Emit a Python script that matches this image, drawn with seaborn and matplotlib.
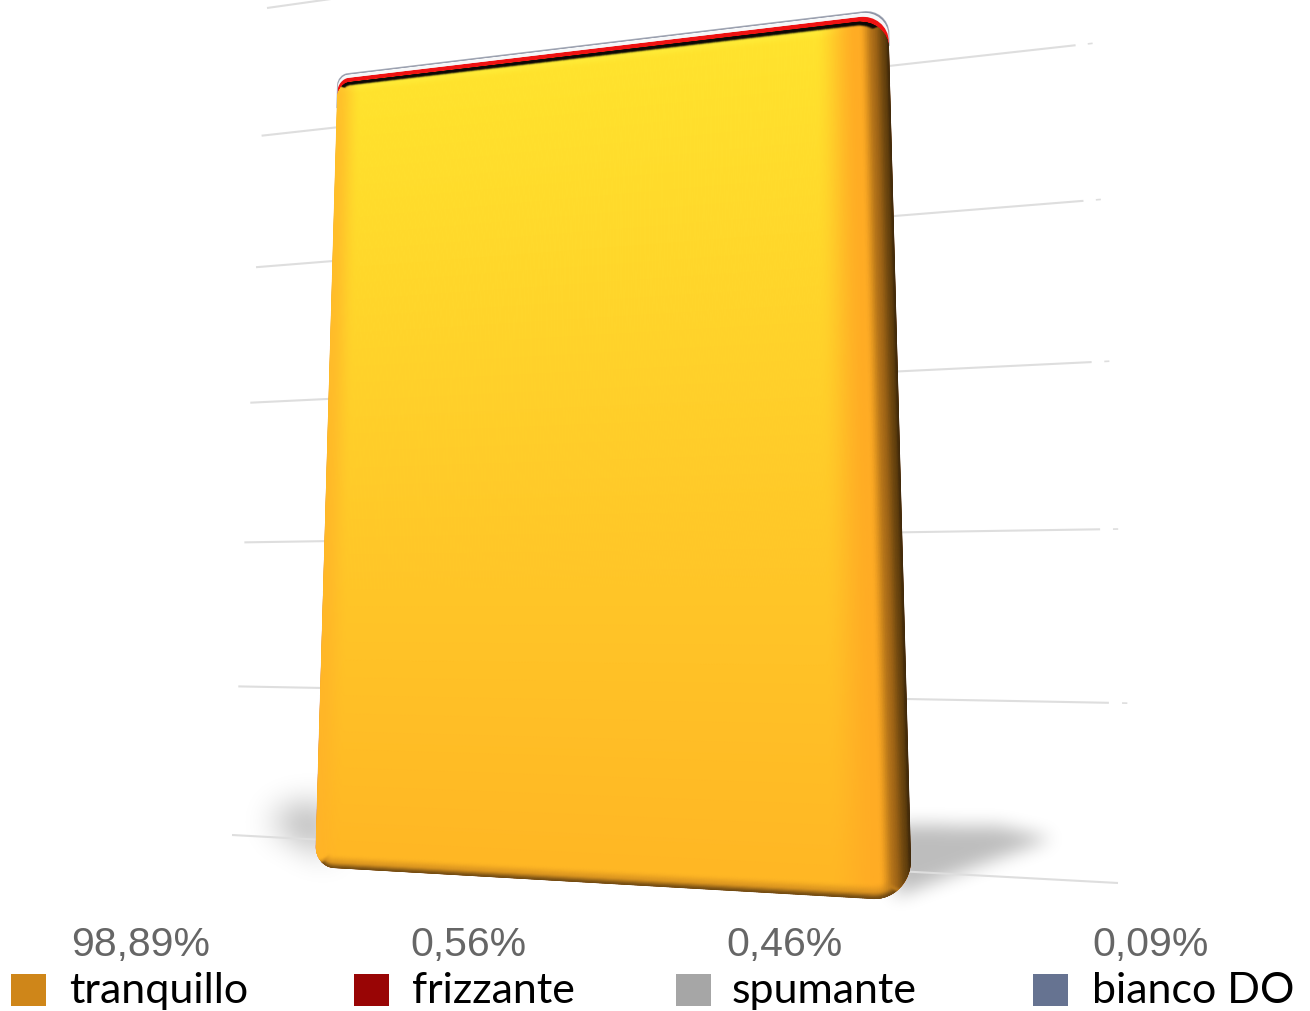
import numpy as np
import matplotlib
matplotlib.use("Agg")
import matplotlib.pyplot as plt
import seaborn as sns
from matplotlib.path import Path
from matplotlib.transforms import Transform
from matplotlib.patches import Rectangle, PathPatch

# ---- data ----
series_names = ["tranquillo", "frizzante", "spumante", "bianco DO"]
series_values = [98.89, 0.56, 0.46, 0.09]
value_labels = ["98,89%", "0,56%", "0,46%", "0,09%"]
legend_colors = ["#CF8619", "#990505", "#A6A6A6", "#667391"]
bar_colors = ["#FFC52A", "#EE1212", "#F6F7F8", "#8C92A4"]
grid_levels = [0, 20, 40, 60, 80, 100, 120]
group = ["vino"]

W, H = 1310, 1011
sns.set_theme(style="white")


class Projective(Transform):
    """Maps a data rectangle onto a perspective quadrilateral (image pixels)."""
    input_dims = output_dims = 2
    is_separable = False
    has_inverse = False

    def __init__(self, x0, x1, y0, y1, bl, br, tr, tl):
        super().__init__()
        src = [(x0, y0), (x1, y0), (x1, y1), (x0, y1)]
        dst = [(p[0], H - p[1]) for p in (bl, br, tr, tl)]
        A, b = [], []
        for (x, y), (u, v) in zip(src, dst):
            A.append([x, y, 1, 0, 0, 0, -u * x, -u * y]); b.append(u)
            A.append([0, 0, 0, x, y, 1, -v * x, -v * y]); b.append(v)
        self.m = np.append(np.linalg.solve(np.array(A), np.array(b)), 1).reshape(3, 3)

    def transform_non_affine(self, values):
        v = np.asarray(values, float)
        p = np.column_stack([v, np.ones(len(v))]) @ self.m.T
        return p[:, :2] / p[:, 2:3]


T_bar = Projective(-0.5, 0.5, 0, 100, (315, 867), (912, 901), (888, 9), (338, 75))
T_grid = Projective(0, 1, 0, 120, (232, 835), (1118, 883), (1068, -105), (267, 8))

SX, SY = 570.0, 7.9  # approximate pixels per data unit, for corner radii


def rounded(top, r_tl, r_tr, r_br=34, r_bl=20):
    k = 0.5523
    x0, x1, y0, y1 = -0.5, 0.5, 0.0, top
    def rx(r): return r / SX
    def ry(r): return r / SY
    v = [(x0 + rx(r_bl), y0),
         (x1 - rx(r_br), y0),
         (x1 - rx(r_br) * (1 - k), y0), (x1, y0 + ry(r_br) * (1 - k)), (x1, y0 + ry(r_br)),
         (x1, y1 - ry(r_tr)),
         (x1, y1 - ry(r_tr) * (1 - k)), (x1 - rx(r_tr) * (1 - k), y1), (x1 - rx(r_tr), y1),
         (x0 + rx(r_tl), y1),
         (x0 + rx(r_tl) * (1 - k), y1), (x0, y1 - ry(r_tl) * (1 - k)), (x0, y1 - ry(r_tl)),
         (x0, y0 + ry(r_bl)),
         (x0, y0 + ry(r_bl) * (1 - k)), (x0 + rx(r_bl) * (1 - k), y0), (x0 + rx(r_bl), y0),
         (x0 + rx(r_bl), y0)]
    c = [Path.MOVETO, Path.LINETO, Path.CURVE4, Path.CURVE4, Path.CURVE4, Path.LINETO,
         Path.CURVE4, Path.CURVE4, Path.CURVE4, Path.LINETO, Path.CURVE4, Path.CURVE4, Path.CURVE4,
         Path.LINETO, Path.CURVE4, Path.CURVE4, Path.CURVE4, Path.CLOSEPOLY]
    return Path(v, c)


fig = plt.figure(figsize=(W / 100, H / 100), dpi=100, facecolor="white")

# ---- background layer in image pixels: floor shadows ----
ax_back = fig.add_axes([0, 0, 1, 1], zorder=0)
ax_back.set_xlim(0, W); ax_back.set_ylim(H, 0); ax_back.axis("off")


def blur(a, s):
    n = max(int(s * 1.7), 1)
    kern = np.ones(2 * n + 1) / (2 * n + 1)
    for _ in range(3):
        a = np.apply_along_axis(lambda r: np.convolve(r, kern, mode="same"), 0, a)
        a = np.apply_along_axis(lambda r: np.convolve(r, kern, mode="same"), 1, a)
    return a


def shadow(poly, sigma, alpha):
    xs = np.array([p[0] for p in poly]); ys = np.array([p[1] for p in poly])
    pad = int(sigma * 6)
    x0, x1, y0, y1 = xs.min() - pad, xs.max() + pad, ys.min() - pad, ys.max() + pad
    gx, gy = np.meshgrid(np.arange(x0, x1), np.arange(y0, y1))
    mask = Path(poly).contains_points(np.column_stack([gx.ravel(), gy.ravel()])).reshape(gx.shape)
    a = blur(mask.astype(float), sigma) * alpha
    rgba = np.zeros(a.shape + (4,))
    rgba[..., 3] = np.clip(a, 0, 1)
    ax_back.imshow(rgba, extent=(x0, x1, y1, y0), aspect="auto", interpolation="bilinear")


shadow([(895, 824), (1000, 826), (1052, 838), (975, 866), (895, 896)], 5, 0.26)
shadow([(330, 804), (290, 806), (268, 822), (330, 858)], 9, 0.30)
ax_back.set_xlim(0, W); ax_back.set_ylim(H, 0)

# ---- chart layer ----
ax = fig.add_axes([0, 0, 1, 1], zorder=1)
ax.patch.set_alpha(0)

# gridlines on the back wall
for lev in grid_levels:
    ax.plot([0, 1], [lev, lev], transform=T_grid, color="#DEDEDE", lw=1.5,
            solid_capstyle="butt", zorder=0.5)
    if 20 <= lev <= 100:
        ax.plot([1.0125, 1.0175], [lev, lev], transform=T_grid, color="#DEDEDE", lw=1.2,
                solid_capstyle="butt", zorder=0.5)

# stacked column: drawn from the outermost total inwards so the bands wrap round the corners
tops = np.cumsum(series_values)
radii = [(15, 30), (13, 27), (12, 25), (11, 23)]
for i in [3, 2, 1, 0]:
    before = len(ax.patches)
    sns.barplot(x=group, y=[tops[i]], color=bar_colors[i], saturation=1, width=1,
                errorbar=None, linewidth=0, ax=ax, zorder=2 + (3 - i))
    for p in ax.patches[before:]:
        p.set_transform(T_bar)
        p.set_clip_path(rounded(tops[i], *radii[i]), T_bar)

# thin metallic rim along the top of the column
rim = PathPatch(rounded(tops[3], *radii[3]), fill=False, ec="#A9AEBA", lw=1.0,
                transform=T_bar, zorder=1.9)
ax.add_patch(rim)
rim.set_clip_path(Path([(-0.6, 95.5), (0.6, 95.5), (0.6, 102), (-0.6, 102), (-0.6, 95.5)]), T_bar)
ax.set_xlim(-1, 1); ax.set_ylim(-1, 130)
ax.set_xlabel(""); ax.set_ylabel("")
ax.set_axis_off()


# ---- 3D-like shading of the tranquillo body ----
def smooth(a, b, x):
    t = np.clip((x - a) / (b - a), 0, 1)
    return t * t * (3 - 2 * t)


def corner_dist(d_edge, d_side, R):
    """Distance from a horizontal edge that follows the corner arc and fades out up its side."""
    out = d_edge.copy()
    m = (d_side < R) & (d_edge < R)
    ox, oy = R - d_side[m], R - d_edge[m]
    h = np.hypot(ox, oy) + 1e-9
    out[m] = (R - h) + smooth(0.55, 1.0, ox / h) * R
    return out


top = series_values[0]
ncol, nrow = 380, 800
xe = np.linspace(-0.5, 0.5, ncol + 1)
ye = np.linspace(0, top, nrow + 1)
XC, YC = np.meshgrid(xe, ye)
dl = (XC + 0.5) * SX
dr = (0.5 - XC) * SX
dt = (top - YC) * SY
db = YC * SY


def mix(c, col, f):
    return c * (1 - f[..., None]) + np.array(col, float) * f[..., None]


# vertical yellow to orange base
f = YC / top
rgb = np.empty(XC.shape + (3,))
rgb[..., 0] = 255
rgb[..., 1] = 182 + 46 * f
rgb[..., 2] = 36 + 10 * f
# top highlight, left edge warm
rgb = mix(rgb, (255, 240, 60), (1 - smooth(4, 14, dt)) * 0.6)
rgb = mix(rgb, (255, 178, 40), (1 - smooth(0, 28, dl)) * 0.7)
# right edge falloff
rgb = mix(rgb, (255, 172, 36), 1 - smooth(28, 70, dr))
rgb = mix(rgb, (170, 108, 24), 1 - smooth(13, 27, dr))
rgb = mix(rgb, (100, 65, 14), 1 - smooth(3, 15, dr))
rgb = mix(rgb, (62, 40, 10), 1 - smooth(0, 4, dr))
# dark band below the top edge, wrapping the corners
d_top = np.minimum(corner_dist(dt, dr, 30.0), corner_dist(dt, dl, 15.0))
d_top = np.where(dr < 30.0, corner_dist(dt, dr, 30.0), np.where(dl < 15.0, corner_dist(dt, dl, 15.0), dt))
rgb = mix(rgb, (12, 8, 6), 1 - smooth(2.0, 4.6, d_top))
# bottom edge darkening with rounded corners
d_bot = np.where(dr < 34.0, corner_dist(db, dr, 34.0), np.where(dl < 20.0, corner_dist(db, dl, 20.0), db))
rgb = mix(rgb, (200, 132, 30), (1 - smooth(3, 13, d_bot)) * 0.75)
rgb = mix(rgb, (80, 52, 14), (1 - smooth(0, 6, d_bot)) * 0.75)

rgba = np.clip(np.dstack([rgb / 255, np.ones(XC.shape)]), 0, 1)
ax_body = fig.add_axes([0, 0, 1, 1], zorder=1.5)
ax_body.patch.set_alpha(0)
ax_body.axis("off")
mesh = ax_body.pcolormesh(XC, YC, rgba, transform=T_bar, shading="gouraud")
mesh.set_clip_path(rounded(top, *radii[0]), T_bar)

# ---- legend band in image pixels ----
ax_leg = fig.add_axes([0, 0, 1, 1], zorder=2)
ax_leg.patch.set_alpha(0)
ax_leg.set_xlim(0, W); ax_leg.set_ylim(H, 0); ax_leg.axis("off")
swatch_x = [11, 354, 676, 1033]
name_x = [69, 412, 732, 1092]
value_x = [71, 410, 726, 1092]
for i, name in enumerate(series_names):
    ax_leg.add_patch(Rectangle((swatch_x[i], 974), 35, 32, color=legend_colors[i], lw=0))
    ax_leg.text(name_x[i], 1003, name, fontsize=31, family="Lato", color="black",
                va="baseline", ha="left")
    ax_leg.text(value_x[i], 956, value_labels[i], fontsize=29.5, family="Liberation Sans",
                color="#666666", va="baseline", ha="left")

fig.savefig("out.png", dpi=100)
